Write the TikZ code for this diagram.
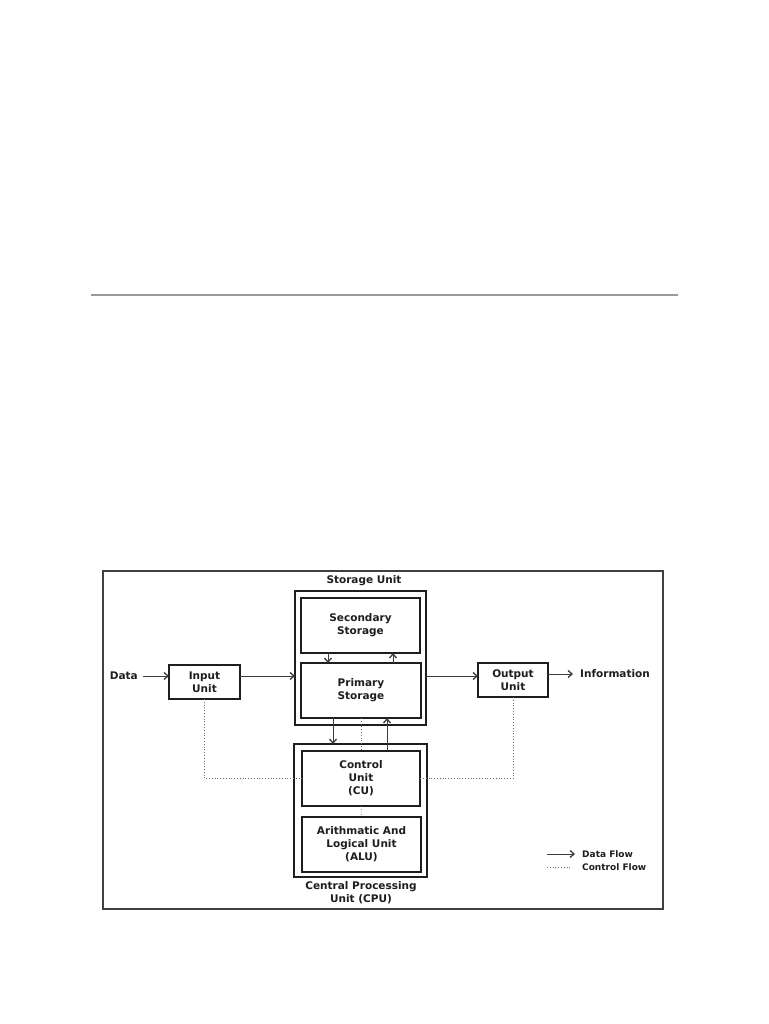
\documentclass[tikz,border=0pt]{standalone}
\usepackage{fontspec}
\setmainfont{DejaVu Sans}
\usetikzlibrary{arrows.meta}
\definecolor{ink}{HTML}{1E1E1E}
\definecolor{wire}{HTML}{3C3C3C}
\definecolor{rule}{HTML}{9A9A9A}
\tikzset{
  lbl/.style={font=\fontsize{10.5}{13}\selectfont\bfseries, text=ink, align=center, inner sep=0pt},
  box/.style={draw=ink, line width=1.6pt, inner sep=0pt, outer sep=0pt, lbl},
  outerbox/.style={draw=ink, line width=1.6pt, inner sep=0pt, outer sep=0pt},
  dataflow/.style={draw=wire, line width=0.9pt, -{Straight Barb[length=4pt,width=7pt,line width=1.3pt]}},
  ctrlflow/.style={draw=wire!75, line width=0.8pt, dotted},
}
\begin{document}
\begin{tikzpicture}[x=1pt,y=-1pt]
\useasboundingbox[fill=white] (0,0) rectangle (768,1024);
% top rule
\draw[rule, line width=2pt] (91,295) -- (678,295);
% frame
\draw[ink!85, line width=1.3pt] (103,571) rectangle (663,909);

% storage unit
\node[outerbox, minimum width=131pt, minimum height=134pt] (storage) at (360.5,658) {};
\node[lbl] (storagelbl) at (364,581) {Storage Unit};
\node[box, minimum width=119pt, minimum height=55pt] (secondary) at (360.5,625.5) {Secondary\\Storage};
\node[box, minimum width=120pt, minimum height=55pt] (primary) at (361,690.5) {Primary\\Storage};

% input / output
\node[box, minimum width=71pt, minimum height=34pt] (input) at (204.5,682) {Input\\Unit};
\node[box, minimum width=70pt, minimum height=34pt] (output) at (513,680) {Output\\Unit};
\node[lbl, anchor=east] (data) at (138,676) {Data};
\node[lbl, anchor=west] (info) at (580,674) {Information};

% CPU
\node[outerbox, minimum width=133pt, minimum height=133pt] (cpu) at (360.5,810.5) {};
\node[box, minimum width=118pt, minimum height=55pt] (control) at (361,778.5) {Control\\Unit\\(CU)};
\node[box, minimum width=119pt, minimum height=55pt] (alu) at (361.5,844.5) {Arithmatic And\\Logical Unit\\(ALU)};
\node[lbl] (cpulbl) at (361,893) {Central Processing\\Unit (CPU)};

% helper coordinates
\coordinate (row) at (0,676);
\coordinate (rowout) at (0,674);
\coordinate (c1) at (328,0);
\coordinate (c2) at (393,0);
\coordinate (c3) at (333,0);
\coordinate (c4) at (361,0);
\coordinate (c5) at (387,0);

% data flow
\draw[dataflow] ([xshift=5pt]data.east) -- (input.west |- row);
\draw[dataflow] (input.east |- row) -- (storage.west |- row);
\draw[dataflow] (storage.east |- row) -- (output.west |- row);
\draw[dataflow] (output.east |- rowout) -- ([xshift=-7pt]info.west);
\draw[dataflow] (secondary.south -| c1) -- (primary.north -| c1);
\draw[dataflow] (primary.north -| c2) -- (secondary.south -| c2);
\draw[dataflow] (primary.south -| c3) -- (cpu.north -| c3);
\draw[dataflow] (control.north -| c5) -- (primary.south -| c5);

% control flow
\draw[ctrlflow] (primary.south -| c4) -- (control.north -| c4);
\draw[ctrlflow] (input.south) |- (control.west);
\draw[ctrlflow] (output.south) |- (control.east);
\draw[ctrlflow] (control.south) -- (alu.north);

% legend
\node[lbl, anchor=west] (dflow) at (582,854) {\fontsize{9}{11}\selectfont Data Flow};
\node[lbl, anchor=west] (cflow) at (582,867) {\fontsize{9}{11}\selectfont Control Flow};
\coordinate (d0) at (547,854);
\coordinate (k0) at (547,867);
\draw[dataflow] (d0) -- ([xshift=-7pt]dflow.west);
\draw[ctrlflow] (k0) -- ([xshift=-11pt]cflow.west);
\end{tikzpicture}
\end{document}
